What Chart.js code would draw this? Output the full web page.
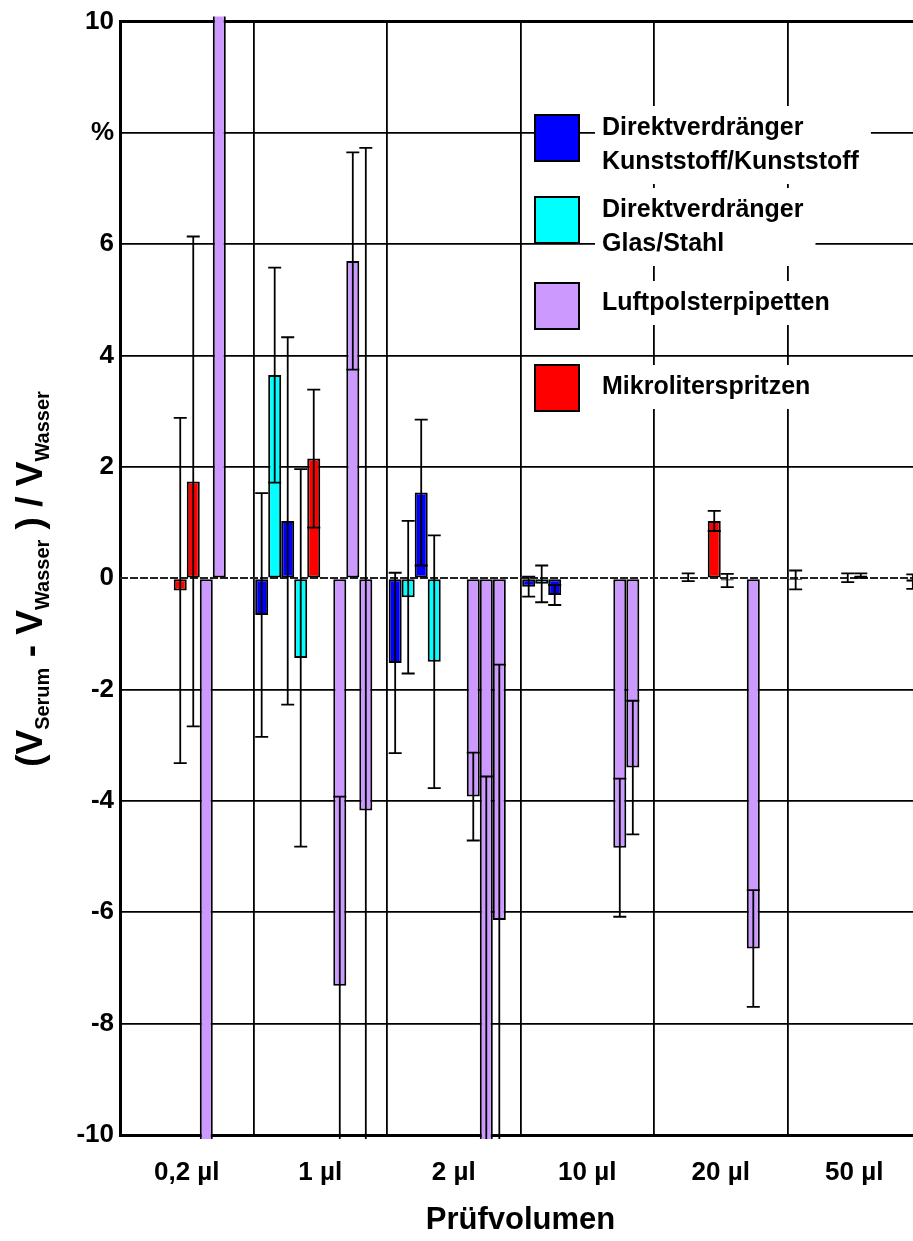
<!DOCTYPE html>
<html><head><meta charset="utf-8">
<script src="https://cdn.jsdelivr.net/npm/chart.js@4/dist/chart.umd.min.js"></script>
<style>
html,body{margin:0;padding:0;background:#fff;overflow:hidden;}
#wrap{width:913px;height:1241px;overflow:hidden;position:relative;background:#fff;}
canvas{display:block;}
</style></head><body>
<div id="wrap"><canvas id="c" width="921" height="1241"></canvas></div>
<script>
// ---------- data ----------
const categories = ['0,2 µl', '1 µl', '2 µl', '10 µl', '20 µl', '50 µl'];
const yTickLabels = ['-10', '-8', '-6', '-4', '-2', '0', '2', '4', '6', '%', '10'];
const legendNames = ['Direktverdränger\nKunststoff/Kunststoff', 'Direktverdränger\nGlas/Stahl', 'Luftpolsterpipetten', 'Mikroliterspritzen'];

// Direktverdränger Kunststoff/Kunststoff (two devices)
const kunststoffA    = [null, -0.66, -1.52, -0.15, null, -0.03];
const kunststoffAErr = [null,  2.19,  1.62,  0.18, null,  0.17];
const kunststoffB    = [null,  1.03,  1.54, -0.30, 0.02, null];
const kunststoffBErr = [null,  3.30,  1.31,  0.18, 0.07, null];
// Direktverdränger Glas/Stahl (two devices)
const glasA    = [null,  3.65, -0.34, -0.10, null, null];
const glasAErr = [null,  1.93,  1.37,  0.33, null, null];
const glasB    = [null, -1.43, -1.50, null, null, null];
const glasBErr = [null,  3.39,  2.27, null, null, null];
// Mikroliterspritzen (two devices)
const spritzeA    = [-0.22, 2.15, null, null, 1.03, 0.01];
const spritzeAErr = [ 3.10, 1.24, null, null, 0.18, 0.08];
const spritzeB    = [ 1.74, null, null, null, -0.04, 0.05];
const spritzeBErr = [ 4.40, null, null, null, 0.12, 0.04];
// Luftpolsterpipetten (three devices)
const luftA    = [-11, -7.32, -3.92, null, null, null];
const luftAErr = [null, 3.40,  0.79, null, null, null];
const luftB    = [ 11,  5.70, -12,  -4.84, -6.65, null];
const luftBErr = [null, 1.95,  8.44, 1.24,  1.05, null];
const luftC    = [null, -4.17, -6.14, -3.40, null, null];
const luftCErr = [null, 11.90,  4.59,  1.20, null, null];
// further device (not in legend)
const sonstige    = [null, null, null, null, null, -0.06];
const sonstigeErr = [null, null, null, null, null, 0.13];

// ---------- styles ----------
const FONT = "'Liberation Sans', Arial, sans-serif";
const typeColors = ['#0000FF', '#00FFFF', '#CC99FF', '#FF0000', '#FF00FF'];

const slots = [
  {values: kunststoffA, errors: kunststoffAErr, type: 0},
  {values: glasA,       errors: glasAErr,       type: 1},
  {values: kunststoffB, errors: kunststoffBErr, type: 0},
  {values: glasB,       errors: glasBErr,       type: 1},
  {values: spritzeA,    errors: spritzeAErr,    type: 3},
  {values: spritzeB,    errors: spritzeBErr,    type: 3},
  {values: luftA,       errors: luftAErr,       type: 2},
  {values: luftB,       errors: luftBErr,       type: 2},
  {values: luftC,       errors: luftCErr,       type: 2},
  {values: sonstige,    errors: sonstigeErr,    type: 4}
];

const datasets = slots.map((s, i) => ({
  label: 'Serie ' + (i + 1),
  data: s.values,
  errors: s.errors,
  backgroundColor: typeColors[s.type],
  borderColor: '#000',
  borderWidth: 2,
  borderSkipped: false,
  categoryPercentage: 0.975,
  barPercentage: 1.0,
  clip: {left: 0, right: 0, top: 5, bottom: 4}
}));

// ---------- plugins ----------
const zeroLine = {
  id: 'zeroLine',
  beforeDatasetsDraw(chart) {
    const {ctx, chartArea: a, scales: {y}} = chart;
    const y0 = Math.round(y.getPixelForValue(0));
    ctx.save();
    ctx.strokeStyle = '#222';
    ctx.lineWidth = 2;
    ctx.setLineDash([8, 2]);
    ctx.beginPath();
    ctx.moveTo(a.left, y0); ctx.lineTo(a.right, y0);
    ctx.stroke();
    ctx.restore();
  }
};

const errorBars = {
  id: 'errorBars',
  afterDatasetsDraw(chart) {
    const {ctx, chartArea: a, scales: {y}} = chart;
    ctx.save();
    ctx.beginPath();
    ctx.rect(a.left, a.top - 5, a.right - a.left, a.bottom - a.top + 9);
    ctx.clip();
    ctx.strokeStyle = '#000';
    ctx.lineWidth = 1.8;
    chart.data.datasets.forEach((ds, di) => {
      const meta = chart.getDatasetMeta(di);
      ds.errors.forEach((e, i) => {
        const v = ds.data[i];
        if (e == null || v == null) return;
        const bar = meta.data[i];
        const {x, width} = bar.getProps(['x', 'width'], true);
        const hi = y.getPixelForValue(v + e);
        const lo = y.getPixelForValue(v - e);
        const h = width / 2;
        ctx.beginPath();
        ctx.moveTo(x, hi); ctx.lineTo(x, lo);
        ctx.moveTo(x - h, hi); ctx.lineTo(x + h, hi);
        ctx.moveTo(x - h, lo); ctx.lineTo(x + h, lo);
        ctx.stroke();
      });
    });
    ctx.restore();
  }
};

const legendBox = {
  id: 'legendBox',
  afterDraw(chart) {
    const ctx = chart.ctx;
    const swatchX = 535, swatchW = 44, swatchH = 46, textX = 602, lineH = 34;
    const swatchTop = [115, 197, 283, 365];
    const firstLineY = [128, 210, 303, 387];
    const legendColors = [typeColors[0], typeColors[1], typeColors[2], typeColors[3]];
    ctx.save();
    ctx.font = 'bold 25px ' + FONT;
    ctx.textBaseline = 'middle';
    ctx.textAlign = 'left';
    legendNames.forEach((name, k) => {
      const lines = name.split('\n');
      const maxW = Math.max(...lines.map(l => ctx.measureText(l).width));
      const top = firstLineY[k] - 22;
      const bottom = firstLineY[k] + (lines.length - 1) * lineH + 22;
      ctx.fillStyle = '#fff';
      ctx.fillRect(textX - 7, top, maxW + 19, bottom - top);
      ctx.fillStyle = legendColors[k];
      ctx.fillRect(swatchX, swatchTop[k], swatchW, swatchH);
      ctx.strokeStyle = '#000';
      ctx.lineWidth = 2;
      ctx.strokeRect(swatchX, swatchTop[k], swatchW, swatchH);
      ctx.fillStyle = '#000';
      lines.forEach((l, j) => ctx.fillText(l, textX, firstLineY[k] + j * lineH));
    });
    ctx.restore();
  }
};

const yTitle = {
  id: 'yTitle',
  afterDraw(chart) {
    const ctx = chart.ctx;
    const segs = [['(', 0], ['V', 0], ['Serum', 1], [' - ', 0], ['V', 0], ['Wasser', 1], [' ) / ', 0], ['V', 0], ['Wasser', 1]];
    const fonts = ['bold 37px ' + FONT, 'bold 20px ' + FONT];
    const drop = [0, 7];
    ctx.save();
    ctx.fillStyle = '#000';
    ctx.textBaseline = 'alphabetic';
    ctx.textAlign = 'left';
    let total = 0;
    const widths = segs.map(([t, f]) => { ctx.font = fonts[f]; const w = ctx.measureText(t).width; total += w; return w; });
    ctx.translate(42, 579);
    ctx.rotate(-Math.PI / 2);
    let x = -total / 2;
    segs.forEach(([t, f], i) => {
      ctx.font = fonts[f];
      ctx.fillText(t, x, drop[f]);
      x += widths[i];
    });
    ctx.restore();
  }
};

// ---------- chart ----------
new Chart(document.getElementById('c'), {
  type: 'bar',
  data: {labels: categories, datasets},
  options: {
    responsive: false,
    animation: false,
    devicePixelRatio: 1,
    layout: {padding: {top: 18, left: 0, right: 0, bottom: 0}},
    plugins: {legend: {display: false}, tooltip: {enabled: false}},
    scales: {
      x: {
        grid: {color: '#000', lineWidth: 1.8, offset: true, drawTicks: false},
        border: {display: true, color: '#000', width: 3},
        ticks: {color: '#000', font: {family: FONT, size: 26, weight: 'bold'}, padding: 22, maxRotation: 0, autoSkip: false},
        title: {display: true, text: 'Prüfvolumen', color: '#000', font: {family: FONT, size: 31, weight: 'bold'}, padding: {top: 0, bottom: 2}},
        afterFit(s) { s.height = 106; }
      },
      y: {
        min: -10, max: 10,
        ticks: {stepSize: 2, color: '#000', font: {family: FONT, size: 26, weight: 'bold'}, padding: 6,
                callback: (v, i) => yTickLabels[i]},
        grid: {
          drawTicks: false,
          color: c => (c.tick && c.tick.value === 0) ? 'rgba(0,0,0,0)' : '#000',
          lineWidth: c => (c.tick && c.tick.value === 10) ? 3 : 1.8
        },
        border: {display: true, color: '#000', width: 3},
        afterFit(s) { s.width = 120; }
      }
    }
  },
  plugins: [zeroLine, errorBars, legendBox, yTitle]
});
</script>
</body></html>
